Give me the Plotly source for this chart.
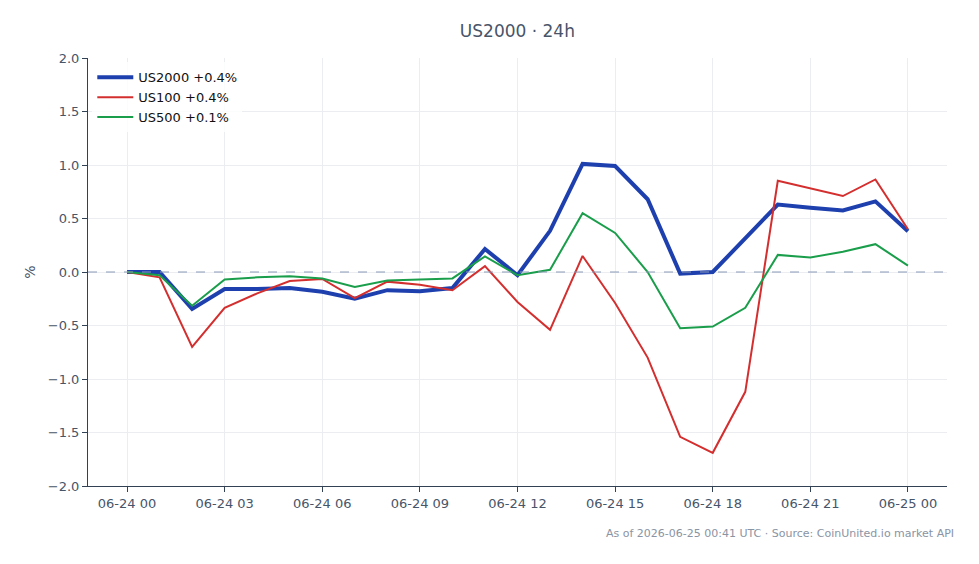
import plotly.graph_objects as go
import pandas as pd

times = pd.date_range("2026-06-24 00:00", periods=25, freq="h")

us2000 = [0.0, 0.0, -0.345, -0.16, -0.16, -0.15, -0.185, -0.25, -0.17, -0.18, -0.15, 0.215, -0.03,
          0.385, 1.01, 0.99, 0.68, -0.015, 0.0, 0.31, 0.63, 0.60, 0.575, 0.66, 0.38]
us100 = [0.0, -0.05, -0.70, -0.335, -0.2, -0.085, -0.065, -0.245, -0.09, -0.12, -0.17, 0.055, -0.28,
         -0.54, 0.15, -0.29, -0.80, -1.54, -1.69, -1.12, 0.853, 0.78, 0.71, 0.865, 0.40]
us500 = [0.0, -0.03, -0.315, -0.07, -0.05, -0.04, -0.06, -0.14, -0.08, -0.07, -0.06, 0.145, -0.03,
         0.02, 0.55, 0.365, 0.0, -0.525, -0.51, -0.335, 0.16, 0.135, 0.19, 0.26, 0.06]

series = [
    ("US2000 +0.4%", us2000, "#1e40af", 4),
    ("US100 +0.4%", us100, "#d32f2f", 2),
    ("US500 +0.1%", us500, "#1a9e4b", 2),
]

FONT = "DejaVu Sans"
AXIS = "#334155"
TICK = "#475569"

fig = go.Figure()
for name, vals, color, w in series:
    fig.add_trace(go.Scatter(x=times, y=vals, mode="lines", name=name,
                             line=dict(color=color, width=w)))

fig.add_hline(y=0, line=dict(color="#8a9ab5", width=1, dash="dash"))

fig.update_layout(
    width=979, height=564,
    margin=dict(l=88, r=32, t=58, b=78),
    paper_bgcolor="white", plot_bgcolor="white",
    font=dict(family=FONT, size=13, color=TICK),
    title=dict(text="US2000 · 24h", x=0.5285, xanchor="center", y=0.945, yanchor="middle",
               font=dict(family=FONT, size=17, color="#475569")),
    legend=dict(x=0.005, y=0.99, xanchor="left", yanchor="top",
                bgcolor="rgba(255,255,255,0.8)", font=dict(size=13, color="#111111"),
                itemwidth=36, tracegroupgap=0),
    showlegend=True,
    annotations=[dict(text="As of 2026-06-25 00:41 UTC · Source: CoinUnited.io market API",
                      xref="paper", yref="paper", x=1.01, y=-0.112, xanchor="right", yanchor="middle",
                      showarrow=False, font=dict(family=FONT, size=11, color="#8a94a3"))],
)

fig.update_xaxes(
    range=[pd.Timestamp("2026-06-23 22:48"), pd.Timestamp("2026-06-25 01:12")],
    dtick=3 * 3600 * 1000, tick0=pd.Timestamp("2026-06-24 00:00"), tickformat="%m-%d %H",
    showline=True, linecolor=AXIS, linewidth=1, mirror=False,
    ticks="outside", ticklen=5, tickcolor=AXIS,
    showgrid=True, gridcolor="#ebedf0", gridwidth=1, zeroline=False,
    tickfont=dict(size=13, color=TICK),
)
fig.update_yaxes(
    range=[-2.0, 2.0], dtick=0.5, tickformat=".1f",
    showline=True, linecolor=AXIS, linewidth=1,
    ticks="outside", ticklen=5, tickcolor=AXIS,
    showgrid=True, gridcolor="#ebedf0", gridwidth=1, zeroline=False,
    title=dict(text="%", font=dict(size=14, color=TICK), standoff=8),
    tickfont=dict(size=13, color=TICK),
)

fig.write_html("out.html")
